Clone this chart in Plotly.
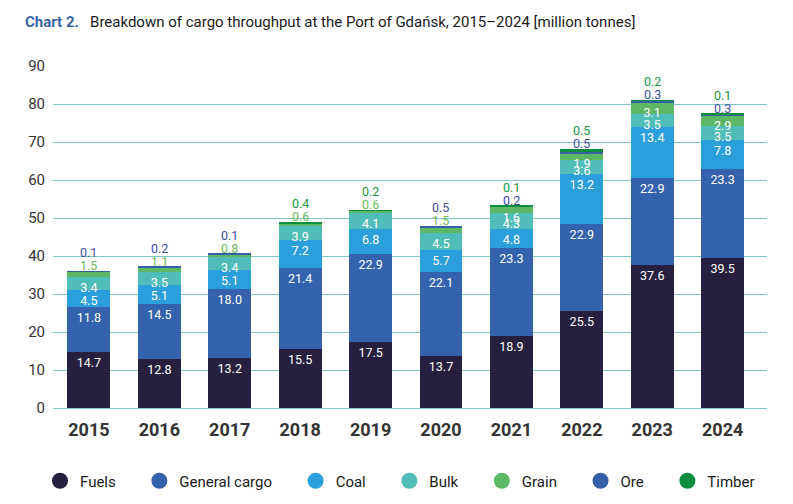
import plotly.graph_objects as go

years = ["2015", "2016", "2017", "2018", "2019", "2020", "2021", "2022", "2023", "2024"]

fuels         = [14.7, 12.8, 13.2, 15.5, 17.5, 13.7, 18.9, 25.5, 37.6, 39.5]
general_cargo = [11.8, 14.5, 18.0, 21.4, 22.9, 22.1, 23.3, 22.9, 22.9, 23.3]
coal          = [4.5, 5.1, 5.1, 7.2, 6.8, 5.7, 4.8, 13.2, 13.4, 7.8]
bulk          = [3.4, 3.5, 3.4, 3.9, 4.1, 4.5, 4.3, 3.6, 3.5, 3.5]
grain         = [1.5, 1.1, 0.8, 0.6, 0.6, 1.5, 1.6, 1.9, 3.1, 2.9]
ore           = [0.1, 0.2, 0.1, 0.0, 0.0, 0.5, 0.2, 0.5, 0.3, 0.3]
timber        = [0.0, 0.0, 0.0, 0.4, 0.2, 0.0, 0.1, 0.5, 0.2, 0.1]

# name, values, bar colour, colour of label when it sits above the bar
SERIES = [
    ("Fuels",         fuels,         "#261f3f", None),
    ("General cargo", general_cargo, "#3562ad", None),
    ("Coal",          coal,          "#2a9fdb", None),
    ("Bulk",          bulk,          "#50bdb8", None),
    ("Grain",         grain,         "#5db866", "#6cbb5a"),
    ("Ore",           ore,           "#3560a8", "#3d4ea0"),
    ("Timber",        timber,        "#0e8d3e", "#239448"),
]
INSIDE_MIN = 1.6   # smaller values are written above the bar
FONT = "Roboto, Liberation Sans, Arial"

# page body has an 8px margin, so figure px = screen px - 8
W, H = 793, 504
ML, MR, MT, MB = 45, 34, 58, 104
PLOT_W = W - ML - MR
PLOT_H = H - MT - MB

fig = go.Figure()

for name, vals, color, _ in SERIES:
    txt = [f"{v:.1f}" if v >= INSIDE_MIN else "" for v in vals]
    fig.add_trace(go.Bar(
        x=years, y=vals, name=name, marker_color=color,
        marker_line_width=0, width=0.61,
        text=txt, textposition="inside", insidetextanchor="end",
        textangle=0, textfont=dict(color="white", size=12.5, family=FONT),
        showlegend=False, hoverinfo="skip",
    ))
    # legend entry with round marker (trailing spaces widen the gap between entries)
    fig.add_trace(go.Scatter(
        x=[None], y=[None], mode="markers", name=name + "\u00a0" * 5,
        marker=dict(symbol="circle", size=17, color=color),
    ))

# small values stacked above each bar
totals = [sum(s[1][i] for s in SERIES) for i in range(len(years))]
for i in range(len(years)):
    k = 0
    for name, vals, color, lab_color in SERIES:
        v = vals[i]
        if v <= 0 or v >= INSIDE_MIN:
            continue
        fig.add_annotation(
            x=i, y=totals[i], xref="x", yref="y", text=f"{v:.1f}", showarrow=False,
            yanchor="bottom", yshift=-4 + 13 * k,
            font=dict(color=lab_color, size=12.5, family=FONT),
        )
        k += 1

fig.add_annotation(
    x=(15 - ML) / PLOT_W, xref="paper", xanchor="left",
    y=1 + (MT - 14) / PLOT_H, yref="paper", yanchor="middle",
    text="<b><span style='color:#3a64a8'>Chart 2.</span></b>"
         "   Breakdown of cargo throughput at the Port of Gdańsk, 2015–2024 [million tonnes]",
    showarrow=False, font=dict(size=15, color="#1a1a1a", family=FONT),
)

fig.update_layout(
    width=W, height=H,
    margin=dict(l=ML, r=MR, t=MT, b=MB, autoexpand=False),
    barmode="stack",
    plot_bgcolor="white", paper_bgcolor="white",
    uniformtext=dict(minsize=12.5, mode="show"),
    font=dict(family=FONT, color="#333333"),
    xaxis=dict(
        type="category", range=[-0.51, 9.63],
        showgrid=False, zeroline=False, showline=False,
        ticks="", ticklabelstandoff=9,
        tickfont=dict(size=18, color="#333333", family=FONT),
        tickprefix="<b>", ticksuffix="</b>",
    ),
    yaxis=dict(
        range=[0, 90], dtick=10, showgrid=True, gridcolor="#80c8ca", gridwidth=1.3,
        zeroline=True, zerolinecolor="#80c8ca", zerolinewidth=1.3,
        ticks="", ticklabelstandoff=7,
        tickfont=dict(size=15, color="#333333", family=FONT),
    ),
    legend=dict(
        orientation="h", traceorder="normal",
        x=(32 - ML) / PLOT_W, xanchor="left",
        y=((H - MB) - 473) / PLOT_H, yanchor="middle",
        font=dict(size=15, color="#1a1a1a", family=FONT),
        itemwidth=30,
    ),
)

fig.write_html("out.html")
